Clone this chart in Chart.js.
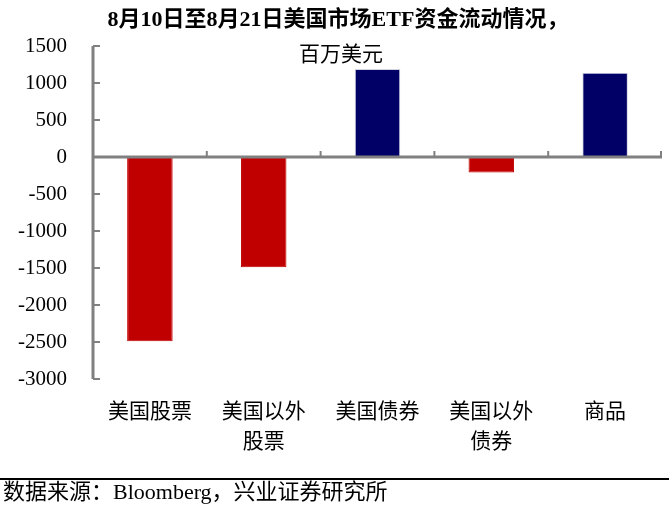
<!DOCTYPE html>
<html>
<head>
<meta charset="utf-8">
<script src="https://cdn.jsdelivr.net/npm/chart.js@4"></script>
<style>
  html, body { margin: 0; padding: 0; background: #fff; }
  #wrap { width: 669px; height: 511px; }
</style>
</head>
<body>
<div id="wrap"><canvas id="barChart" width="669" height="511"></canvas></div>
<script>
// ==========================================
// 1. ข้อมูล
// ==========================================
const categories = [['美国股票'], ['美国以外', '股票'], ['美国债券'], ['美国以外', '债券'], ['商品']];
const flows = [-2490, -1490, 1190, -210, 1140];
const yTicks = [-3000, -2500, -2000, -1500, -1000, -500, 0, 500, 1000, 1500];

const titleLines = ['8月10日至8月21日美国市场ETF资金流动情况，', '百万美元'];
const sourceText = '数据来源：Bloomberg，兴业证券研究所';

const RED = '#C00000';
const NAVY = '#000066';
const AXIS = '#808080';
const FONT = '"Liberation Serif", "Noto Sans CJK SC", serif';

// ==========================================
// 2. วาดเส้นแกน ชื่อกราฟ และที่มาข้อมูล
// ==========================================
const decorPlugin = {
    id: 'decor',
    afterDatasetsDraw(chart) {
        const { ctx, chartArea: area, scales: { x, y } } = chart;
        const zeroY = y.getPixelForValue(0);
        ctx.save();
        ctx.strokeStyle = AXIS;

        // แกน y และขีด
        ctx.lineWidth = 3;
        ctx.beginPath();
        ctx.moveTo(area.left, y.getPixelForValue(yTicks[yTicks.length - 1]));
        ctx.lineTo(area.left, y.getPixelForValue(yTicks[0]));
        ctx.stroke();
        ctx.lineWidth = 2;
        yTicks.forEach(v => {
            const py = y.getPixelForValue(v);
            ctx.beginPath();
            ctx.moveTo(area.left, py);
            ctx.lineTo(area.left + 7, py);
            ctx.stroke();
        });

        // เส้นศูนย์และขีดแบ่งหมวด
        ctx.lineWidth = 3;
        ctx.beginPath();
        ctx.moveTo(area.left, zeroY);
        ctx.lineTo(area.right, zeroY);
        ctx.stroke();
        ctx.lineWidth = 2;
        const step = x.getPixelForValue(1) - x.getPixelForValue(0);
        for (let i = 0; i < categories.length; i++) {
            const px = Math.min(x.getPixelForValue(i) + step / 2, area.right - 1);
            ctx.beginPath();
            ctx.moveTo(px, zeroY);
            ctx.lineTo(px, zeroY - 6);
            ctx.stroke();
        }

        // ชื่อกราฟ
        ctx.fillStyle = '#000';
        ctx.textAlign = 'center';
        ctx.textBaseline = 'middle';
        ctx.font = 'bold 22px ' + FONT;
        ctx.fillText(titleLines[0], 338, 20);
        ctx.font = '21px ' + FONT;
        ctx.fillText(titleLines[1], 341, 55);

        // เส้นคั่นและที่มาข้อมูล
        ctx.strokeStyle = '#000';
        ctx.lineWidth = 2;
        ctx.beginPath();
        ctx.moveTo(0, 479);
        ctx.lineTo(669, 479);
        ctx.stroke();
        ctx.textAlign = 'left';
        ctx.font = '22px ' + FONT;
        ctx.fillText(sourceText, 3, 493);
        ctx.restore();
    }
};

// ==========================================
// 3. กราฟแท่ง
// ==========================================
new Chart(document.getElementById('barChart').getContext('2d'), {
    type: 'bar',
    data: {
        labels: categories,
        datasets: [{
            data: flows,
            backgroundColor: flows.map(v => v < 0 ? RED : NAVY),
            borderColor: flows.map(v => v < 0 ? RED : '#D4D4E4'),
            borderWidth: 1,
            borderSkipped: false,
            categoryPercentage: 1,
            barPercentage: 0.4
        }]
    },
    options: {
        responsive: false,
        animation: false,
        layout: { padding: { left: 0, right: 7, top: 46, bottom: 42 } },
        plugins: { legend: { display: false }, tooltip: { enabled: false } },
        scales: {
            x: {
                grid: { display: false, drawTicks: false },
                border: { display: false },
                ticks: {
                    color: '#000',
                    padding: 18,
                    maxRotation: 0,
                    font: { family: FONT, size: 21, lineHeight: 1.43 }
                },
                afterFit(scale) { scale.height = 90; }
            },
            y: {
                min: -3000,
                max: 1500,
                grid: { display: false, drawTicks: false },
                border: { display: false },
                afterBuildTicks(scale) { scale.ticks = yTicks.map(v => ({ value: v })); },
                ticks: {
                    color: '#000',
                    padding: 26,
                    font: { family: FONT, size: 21 },
                    callback: v => String(v)
                },
                afterFit(scale) { scale.width = 93; }
            }
        }
    },
    plugins: [decorPlugin]
});
</script>
</body>
</html>
